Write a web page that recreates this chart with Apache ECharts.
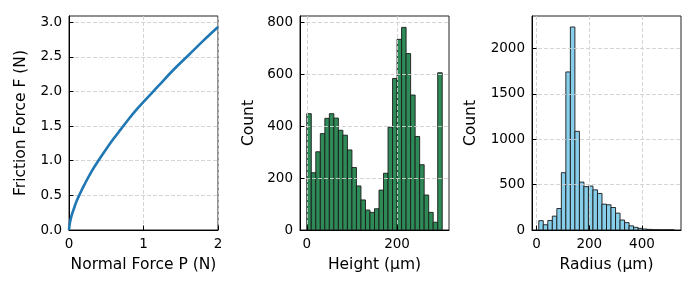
<!DOCTYPE html>
<html>
<head>
<meta charset="utf-8">
<script src="https://cdn.jsdelivr.net/npm/echarts@6/dist/echarts.min.js"></script>
<style>
html,body{margin:0;padding:0;background:#fff;}
#chart{width:698px;height:291px;}
</style>
</head>
<body>
<div id="chart"></div>
<script>
// ---- Panel 1: friction vs normal force ----
const normalForceP = [0, 0.01, 0.03, 0.06, 0.1, 0.15, 0.2, 0.3, 0.4, 0.5, 0.6, 0.7, 0.8, 0.9, 1.0, 1.2, 1.4, 1.6, 1.8, 2.0];
const frictionForceF = [0, 0.09, 0.19, 0.29, 0.41, 0.53, 0.64, 0.84, 1.01, 1.17, 1.32, 1.46, 1.60, 1.73, 1.85, 2.08, 2.31, 2.52, 2.73, 2.93];
const forceXTicks = [0, 1, 2];
const forceYTicks = [0, 0.5, 1.0, 1.5, 2.0, 2.5, 3.0];

// ---- Panel 2: height histogram ----
const heightBinEdges = [0, 10, 20, 30, 40, 50, 60, 70, 80, 90, 100, 110, 120, 130, 140, 150, 160, 170, 180, 190, 200, 210, 220, 230, 240, 250, 260, 270, 280, 290, 300];
const heightCounts = [449, 221, 302, 372, 431, 449, 432, 385, 366, 309, 241, 170, 116, 77, 68, 82, 154, 219, 397, 585, 736, 782, 681, 521, 361, 252, 135, 68, 30, 607];
const heightXTicks = [0, 200];
const heightYTicks = [0, 200, 400, 600, 800];

// ---- Panel 3: radius histogram ----
const radiusBinEdges = [8.2, 25.3, 42.5, 59.6, 76.8, 93.9, 111.0, 128.2, 145.3, 162.5, 179.6, 196.7, 213.9, 231.0, 248.2, 265.3, 282.4, 299.6, 316.7, 333.9, 351.0, 368.1, 385.3, 402.4, 419.6, 436.7, 453.8, 471.0, 488.1, 505.3, 522.4];
const radiusCounts = [103, 58, 105, 153, 237, 632, 1743, 2239, 1088, 528, 478, 485, 443, 403, 285, 278, 248, 186, 110, 81, 46, 29, 18, 11, 7, 3, 2, 1, 1, 1];
const radiusXTicks = [0, 200, 400];
const radiusYTicks = [0, 500, 1000, 1500, 2000];

const FONT = 'DejaVu Sans';
const INK = '#000';
const GRIDCOL = '#cfcfcf';

function histData(edges, counts) {
  return counts.map((c, i) => [edges[i], edges[i + 1], c]);
}
function histItem(params, api) {
  const a = api.coord([api.value(0), api.value(2)]);
  const b = api.coord([api.value(1), 0]);
  return {
    type: 'rect',
    shape: { x: a[0], y: a[1], width: b[0] - a[0], height: b[1] - a[1] },
    style: api.style()
  };
}

function xAxisCfg(idx, min, max, ticks, name, fmt) {
  return {
    type: 'value', gridIndex: idx, min: min, max: max, z: 5,
    name: name, nameLocation: 'middle', nameGap: 27,
    nameTextStyle: { fontFamily: FONT, fontSize: 15.5, color: INK },
    axisLine: { show: true, onZero: false, lineStyle: { color: INK, width: 1 } },
    axisTick: { show: true, inside: true, length: 4.5, customValues: ticks, lineStyle: { color: INK, width: 1 } },
    axisLabel: { show: true, margin: 7, customValues: ticks, fontFamily: FONT, fontSize: 13.5, color: INK, formatter: fmt },
    splitLine: { show: true, lineStyle: { color: GRIDCOL, type: [4, 2], width: 0.9 } }
  };
}
function yAxisCfg(idx, min, max, ticks, name, gap, fmt) {
  return {
    type: 'value', gridIndex: idx, min: min, max: max, z: 5,
    name: name, nameLocation: 'middle', nameRotate: 90, nameGap: gap,
    nameTextStyle: { fontFamily: FONT, fontSize: 15.5, color: INK },
    axisLine: { show: true, onZero: false, lineStyle: { color: INK, width: 1 } },
    axisTick: { show: true, inside: true, length: 4.5, customValues: ticks, lineStyle: { color: INK, width: 1 } },
    axisLabel: { show: true, margin: 7, customValues: ticks, fontFamily: FONT, fontSize: 13.5, color: INK, formatter: fmt },
    splitLine: { show: true, lineStyle: { color: GRIDCOL, type: [4, 2], width: 0.9 } }
  };
}

const chart = echarts.init(document.getElementById('chart'), null, { renderer: 'canvas' });
const gridBase = { top: 16, height: 214, width: 149, show: true, borderColor: '#222', borderWidth: 1, backgroundColor: 'transparent' };

chart.setOption({
  animation: false,
  backgroundColor: '#ffffff',
  grid: [
    Object.assign({ left: 69 }, gridBase),
    Object.assign({ left: 300 }, gridBase),
    Object.assign({ left: 532 }, gridBase)
  ],
  xAxis: [
    Object.assign(xAxisCfg(0, 0, 2, forceXTicks, 'Normal Force P (N)', v => String(v)), { z: 0 }),
    xAxisCfg(1, -15, 315, heightXTicks, 'Height (µm)', v => String(v)),
    xAxisCfg(2, -17.5, 548, radiusXTicks, 'Radius (µm)', v => String(v))
  ],
  yAxis: [
    Object.assign(yAxisCfg(0, 0, 3.09, forceYTicks, 'Friction Force F (N)', 40, v => v.toFixed(1)), { z: 0 }),
    yAxisCfg(1, 0, 826, heightYTicks, 'Count', 43, v => String(v)),
    yAxisCfg(2, 0, 2360, radiusYTicks, 'Count', 53, v => String(v))
  ],
  series: [
    {
      type: 'line', xAxisIndex: 0, yAxisIndex: 0, z: 3,
      data: normalForceP.map((p, i) => [p, frictionForceF[i]]),
      showSymbol: false, smooth: 0.4,
      lineStyle: { color: '#1f77b4', width: 2.6 },
      clip: true
    },
    {
      type: 'custom', xAxisIndex: 1, yAxisIndex: 1, z: 2,
      renderItem: histItem,
      encode: { x: [0, 1], y: 2 },
      data: histData(heightBinEdges, heightCounts),
      itemStyle: { color: '#2E8B57', borderColor: '#1a1a1a', borderWidth: 0.9 }
    },
    {
      type: 'custom', xAxisIndex: 2, yAxisIndex: 2, z: 2,
      renderItem: histItem,
      encode: { x: [0, 1], y: 2 },
      data: histData(radiusBinEdges, radiusCounts),
      itemStyle: { color: '#87CEEB', borderColor: '#1a1a1a', borderWidth: 0.9 }
    }
  ]
});
</script>
</body>
</html>
